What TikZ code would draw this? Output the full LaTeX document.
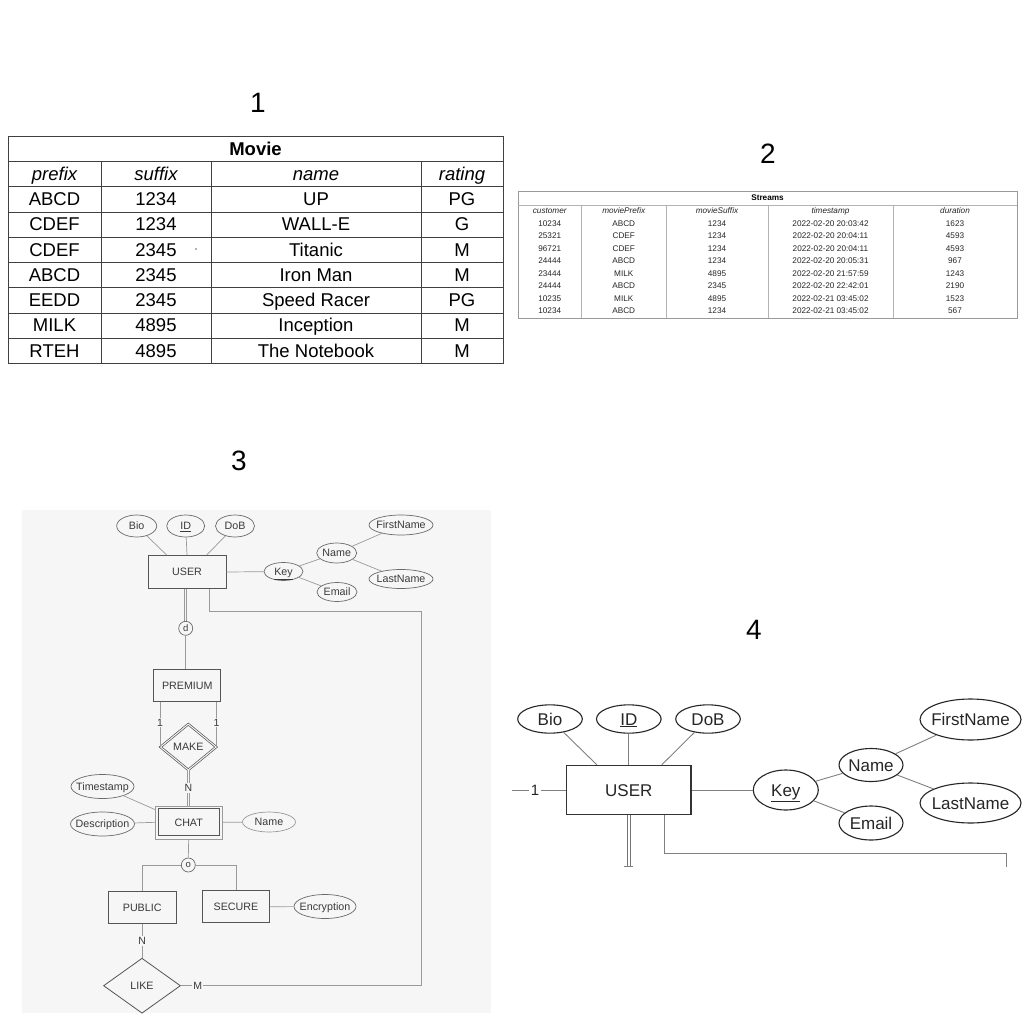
\documentclass[tikz,border=0pt]{standalone}
\usepackage{fontspec}
\setmainfont{Liberation Sans}
\usetikzlibrary{shapes.geometric,calc}
\newcommand\fsz[1]{\fontsize{#1}{#1}\selectfont}
\newcommand\ctxt[1]{\makebox[0pt]{#1}}
\definecolor{pbg}{HTML}{F6F6F6}
\definecolor{pthreeln}{HTML}{9A9A9A}
\definecolor{pthreeel}{HTML}{6A6A6A}
\definecolor{pthreerect}{HTML}{555555}
\definecolor{pthreetxt}{HTML}{3A3A3A}
\begin{document}
\begin{tikzpicture}[x=1pt,y=-1pt,
  num/.style={font=\fsz{28}, inner sep=0},
  tone/.style={font=\fsz{18.5}, inner sep=0, text height=13.2pt, text depth=0pt},
  tonegrid/.style={draw=black!75, line width=0.8},
  ttwo/.style={font=\fsz{8.2}, inner sep=0, text height=5.9pt, text depth=0pt, text=black!85},
  ttwogrid/.style={draw=black!30, line width=0.6},
  ethree/.style={ellipse, draw=pthreeel, line width=0.7, inner sep=0, fill=pbg, font=\fsz{10.7}, text=pthreetxt, text height=7.7pt, text depth=0pt},
  rthree/.style={rectangle, draw=pthreerect, line width=0.9, inner sep=0, fill=pbg, font=\fsz{10.7}, text=pthreetxt, text height=7.7pt, text depth=0pt},
  lthree/.style={draw=pthreeln, line width=0.7},
  lthreedbl/.style={draw=pthreeln, line width=0.7, double=pbg, double distance=1.2},
  labthree/.style={fill=pbg, inner sep=1.2, font=\fsz{10.5}, text=pthreetxt},
  efour/.style={ellipse, draw=black!85, line width=1.1, inner sep=0, fill=white, font=\fsz{17}, text=black!85, text height=12.2pt, text depth=0pt},
  rfour/.style={rectangle, draw=black!80, line width=1.5, inner sep=0, fill=white, font=\fsz{17}, text=black!85, text height=12.2pt, text depth=0pt},
  lfour/.style={draw=black!50, line width=0.9},
  lfourdbl/.style={draw=black!55, line width=0.8, double=white, double distance=1.8}
]
\useasboundingbox[fill=white] (0,0) rectangle (1024,1024);

% ---------- panel labels
\node[num] (lab1) at (258,103) {1};
\node[num] (lab2) at (768,154) {2};
\node[num] (lab3) at (239,461) {3};
\node[num] (lab4) at (754,630) {4};

% ---------- table 1
\draw[tonegrid] (8,136) rectangle (503,363.5);
\foreach \yy in {161.5,186.75,212,237.25,262.5,287.75,313,338.25}
  \draw[tonegrid] (8,\yy) -- (503,\yy);
\foreach \xx in {101,211,421}
  \draw[tonegrid] (\xx,161.5) -- (\xx,363.5);
\node[tone, font=\fsz{18.5}\bfseries] (movie) at (255.5,149) {Movie};
\node[tone, font=\fsz{18.5}\itshape] (tonehA) at (54.5,174) {prefix};
\node[tone, font=\fsz{18.5}\itshape] (tonehB) at (156,174) {suffix};
\node[tone, font=\fsz{18.5}\itshape] (tonehC) at (316,174) {name};
\node[tone, font=\fsz{18.5}\itshape] (tonehD) at (462,174) {rating};
\foreach \a/\b/\c/\d [count=\r] in {ABCD/1234/UP/PG, CDEF/1234/WALL-E/G, CDEF/2345/Titanic/M, ABCD/2345/Iron Man/M, EEDD/2345/Speed Racer/PG, MILK/4895/Inception/M, RTEH/4895/The Notebook/M} {
  \node[tone] (tone-\r-a) at (54.5,{174+25.2*\r}) {\a};
  \node[tone] (tone-\r-b) at (156,{174+25.2*\r}) {\b};
  \node[tone] (tone-\r-c) at (316,{174+25.2*\r}) {\c};
  \node[tone] (tone-\r-d) at (462,{174+25.2*\r}) {\d};
}
\fill[black!60] (196,249) circle (0.8);

% ---------- table 2
\draw[ttwogrid, draw=black!40] (518,191.5) rectangle (1017,318);
\draw[ttwogrid] (518,205) -- (1017,205);
\foreach \xx in {581.5,666,768,893}
  \draw[ttwogrid] (\xx,205) -- (\xx,318);
\node[ttwo, font=\fsz{8.2}\bfseries, text=black] (streams) at (767.5,198) {Streams};
\node[ttwo, font=\fsz{8.2}\itshape] (ttwohA) at (549.75,210.6) {customer};
\node[ttwo, font=\fsz{8.2}\itshape] (ttwohB) at (623.75,210.6) {moviePrefix};
\node[ttwo, font=\fsz{8.2}\itshape] (ttwohC) at (717,210.6) {movieSuffix};
\node[ttwo, font=\fsz{8.2}\itshape] (ttwohD) at (830.5,210.6) {timestamp};
\node[ttwo, font=\fsz{8.2}\itshape] (ttwohE) at (955,210.6) {duration};
\foreach \a/\b/\c/\d/\e [count=\r] in {10234/ABCD/1234/2022-02-20 20:03:42/1623, 25321/CDEF/1234/2022-02-20 20:04:11/4593, 96721/CDEF/1234/2022-02-20 20:04:11/4593, 24444/ABCD/1234/2022-02-20 20:05:31/967, 23444/MILK/4895/2022-02-20 21:57:59/1243, 24444/ABCD/2345/2022-02-20 22:42:01/2190, 10235/MILK/4895/2022-02-21 03:45:02/1523, 10234/ABCD/1234/2022-02-21 03:45:02/567} {
  \node[ttwo] (ttwo-\r-a) at (549.75,{210.6+12.55*\r}) {\a};
  \node[ttwo] (ttwo-\r-b) at (623.75,{210.6+12.55*\r}) {\b};
  \node[ttwo] (ttwo-\r-c) at (717,{210.6+12.55*\r}) {\c};
  \node[ttwo] (ttwo-\r-d) at (830.5,{210.6+12.55*\r}) {\d};
  \node[ttwo] (ttwo-\r-e) at (955,{210.6+12.55*\r}) {\e};
}

% ---------- panel 3 (scanned ER diagram)
\fill[pbg] (22,510) rectangle (491,1013);
\node[ethree, minimum width=40, minimum height=22] (Biothree) at (136.7,526) {\ctxt{Bio}};
\node[ethree, minimum width=38, minimum height=22] (IDthree) at (185.7,526) {\ctxt{\underline{ID}}};
\node[ethree, minimum width=39, minimum height=22] (DoBthree) at (235,526) {\ctxt{DoB}};
\node[rthree, minimum width=78, minimum height=33] (USERthree) at (187,572) {USER};
\node[ethree, minimum width=39, minimum height=18] (Keythree) at (283.5,571.5) {\ctxt{\underline{Key}}};
\node[ethree, minimum width=40, minimum height=20] (Namethree) at (336.7,553) {\ctxt{Name}};
\node[ethree, minimum width=40, minimum height=19] (Emailthree) at (337,592) {\ctxt{Email}};
\node[ethree, minimum width=64, minimum height=20] (Firstthree) at (401,525) {\ctxt{FirstName}};
\node[ethree, minimum width=64, minimum height=19] (Lastthree) at (401,579) {\ctxt{LastName}};
\node[circle, draw=pthreeel, line width=0.7, fill=pbg, inner sep=0, minimum size=14, font=\fsz{9.5}, text=pthreetxt] (dthree) at (185.7,628.3) {d};
\node[rthree, minimum width=67, minimum height=32] (PREMIUM) at (187.3,685.5) {PREMIUM};
\node[diamond, draw=pthreerect, line width=0.7, double=pbg, double distance=1, fill=pbg, inner sep=0, minimum width=56, minimum height=46, font=\fsz{10.7}, text=pthreetxt, text height=7.7pt, text depth=0pt] (MAKE) at (188.3,747) {\ctxt{MAKE}};
\node[rthree, minimum width=67, minimum height=33, line width=0.6, draw=pthreeln] (CHATouter) at (188.7,822.3) {};
\node[rthree, minimum width=61, minimum height=27] (CHAT) at (188.7,822.3) {CHAT};
\node[ethree, minimum width=63, minimum height=24] (Timestamp) at (102.5,786.5) {\ctxt{Timestamp}};
\node[ethree, minimum width=64, minimum height=24] (Description) at (102.5,824) {\ctxt{Description}};
\node[ethree, draw=pthreeln, minimum width=53, minimum height=20] (ChatName) at (269,822) {\ctxt{Name}};
\node[circle, draw=pthreeel, line width=0.7, fill=pbg, inner sep=0, minimum size=14, font=\fsz{9.5}, text=pthreetxt] (othree) at (188.3,865) {o};
\node[rthree, minimum width=68, minimum height=32] (PUBLIC) at (142.2,907.2) {PUBLIC};
\node[rthree, minimum width=67, minimum height=32] (SECURE) at (236,906.7) {SECURE};
\node[ethree, minimum width=62, minimum height=24] (Encryption) at (325,906.5) {\ctxt{Encryption}};
\node[diamond, draw=pthreerect, line width=0.8, fill=pbg, inner sep=0, minimum width=77, minimum height=55, font=\fsz{10.7}, text=pthreetxt, text height=7.7pt, text depth=0pt] (LIKE) at (142,985.7) {\ctxt{LIKE}};
\coordinate (rthreeA) at (421.7,611.7);
\coordinate (rthreeB) at (421.7,985.7);

\draw[lthree] (Biothree) -- ([xshift=-20.3]USERthree.north);
\draw[lthree] (IDthree) -- (USERthree.north);
\draw[lthree] (DoBthree) -- ([xshift=19.7]USERthree.north);
\draw[lthree] (USERthree.east) -- (Keythree);
\draw[lthree] (Keythree) -- (Namethree);
\draw[lthree] (Keythree) -- (Emailthree);
\draw[lthree] (Namethree) -- (Firstthree);
\draw[lthree] (Namethree) -- (Lastthree);
\draw[lthreedbl] ([xshift=-1.3]USERthree.south) -- ([xshift=-1.3,yshift=-0.1]dthree.north -| USERthree.south);
\draw[lthree] (dthree.south) -- (dthree.south |- PREMIUM.north);
\draw[lthree] (MAKE.west |- PREMIUM.south) -- node[labthree, pos=0.46]{1} (MAKE.west);
\draw[lthree] (MAKE.east |- PREMIUM.south) -- node[labthree, pos=0.46]{1} (MAKE.east);
\draw[lthreedbl] (MAKE.south) -- node[labthree]{N} (MAKE.south |- CHATouter.north);
\draw[lthree] (Timestamp) -- ([yshift=-4]CHATouter.north west);
\draw[lthree] (Description) -- (CHATouter.west);
\draw[lthree] (CHATouter.east) -- (ChatName);
\draw[lthree] (CHATouter.south) -- (othree.north);
\draw[lthree] (othree.west) -| (PUBLIC.north);
\draw[lthree] (othree.east) -| (SECURE.north);
\draw[lthree] (SECURE.east) -- (Encryption);
\draw[lthree] (PUBLIC.south) -- node[labthree]{N} (PUBLIC.south |- LIKE.north);
\draw[lthree] (LIKE.east) -- node[labthree, pos=0.07]{M} (rthreeB) -- (rthreeA) -| ([xshift=22]USERthree.south);

% ---------- panel 4 (enlarged detail)
\node[efour, minimum width=64.6, minimum height=28.3] (Biofour) at (550,719) {\ctxt{Bio}};
\node[efour, minimum width=64.6, minimum height=28.3] (IDfour) at (628.8,719) {\ctxt{\underline{ID}}};
\node[efour, minimum width=64.6, minimum height=28.3] (DoBfour) at (708,719) {\ctxt{DoB}};
\node[rfour, minimum width=124.5, minimum height=49] (USERfour) at (628.8,790) {USER};
\node[efour, minimum width=65, minimum height=40] (Keyfour) at (785.8,790) {\ctxt{\underline{Key}}};
\node[efour, minimum width=64, minimum height=33] (Namefour) at (871,765) {\ctxt{Name}};
\node[efour, minimum width=64, minimum height=34] (Emailfour) at (871,823) {\ctxt{Email}};
\node[efour, minimum width=101, minimum height=41] (Firstfour) at (970.5,719.5) {\ctxt{FirstName}};
\node[efour, minimum width=101, minimum height=40] (Lastfour) at (970.5,803) {\ctxt{LastName}};
\coordinate (Lfour) at (511.7,790);
\coordinate (Dfour) at (628.8,866.7);
\coordinate (Rfoura) at (1006,853.3);
\coordinate (Rfourb) at (1006,866.7);

\draw[lfour] (Biofour) -- ([xshift=-32]USERfour.north);
\draw[lfour] (IDfour) -- (USERfour.north);
\draw[lfour] (DoBfour) -- ([xshift=33]USERfour.north);
\draw[lfour] (Lfour) -- node[fill=white, inner sep=1.5, pos=0.43, font=\fsz{15}, text=black!85]{1} (USERfour.west);
\draw[lfour] (USERfour.east) -- (Keyfour);
\draw[lfour] (Keyfour) -- (Namefour);
\draw[lfour] (Keyfour) -- (Emailfour);
\draw[lfour] (Namefour) -- (Firstfour);
\draw[lfour] (Namefour) -- (Lastfour);
\draw[lfourdbl] (USERfour.south) -- (Dfour);
\draw[lfour, line width=0.7] ([xshift=-4.5]Dfour) -- ([xshift=4.5]Dfour);
\draw[lfour] ([xshift=35.5]USERfour.south) |- (Rfoura) -- (Rfourb);
\end{tikzpicture}
\end{document}
